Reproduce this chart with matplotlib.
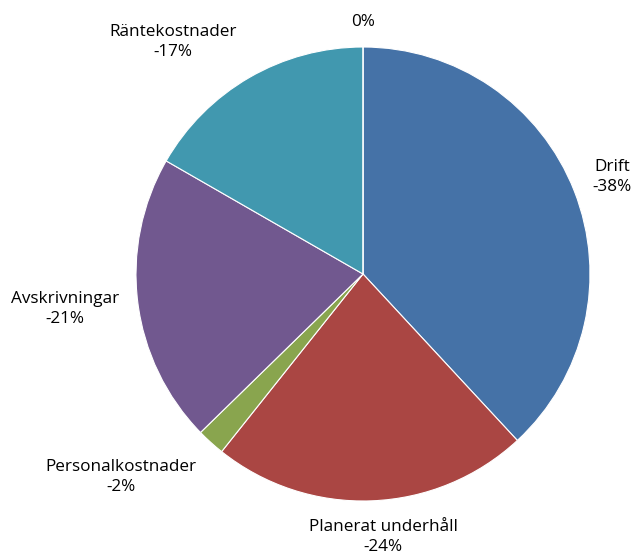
import matplotlib.pyplot as plt

# Data (shares, labels as printed)
categories = ['Drift', 'Planerat underhåll', 'Personalkostnader',
              'Avskrivningar', 'Räntekostnader', '']
shares = [38.1, 22.6, 2.0, 20.6, 16.7, 0.0]
pct_labels = ['-38%', '-24%', '-2%', '-21%', '-17%', '0%']
colors = ['#4572A7', '#AA4643', '#89A54E', '#71588F', '#4198AF', '#DB843D']

# label positions in pixels (x, y from top)
label_pos = [(612, 177), (383, 537), (121, 477), (65, 309), (173, 42), (363, 22)]

W, H = 636, 558
cx, cy, r = 363, 274, 227

plt.rcParams['font.family'] = ['Open Sans', 'DejaVu Sans']

fig = plt.figure(figsize=(W / 100, H / 100), dpi=100)
ax = fig.add_axes([0, 0, 1, 1])

ax.pie(shares, colors=colors, startangle=90, counterclock=False,
       wedgeprops=dict(edgecolor='white', linewidth=0.8))

ax.set_xlim(-cx / r, (W - cx) / r)
ax.set_ylim(-(H - cy) / r, cy / r)
ax.set_aspect('equal', adjustable='box')
ax.axis('off')

for name, pct, (px, py) in zip(categories, pct_labels, label_pos):
    text = f'{name}\n{pct}' if name else pct
    ax.text((px - cx) / r, (cy - py) / r, text, ha='center', va='center',
            fontsize=12.3, fontweight='medium', linespacing=1.3, color='black')

fig.savefig('out.png', dpi=100)
